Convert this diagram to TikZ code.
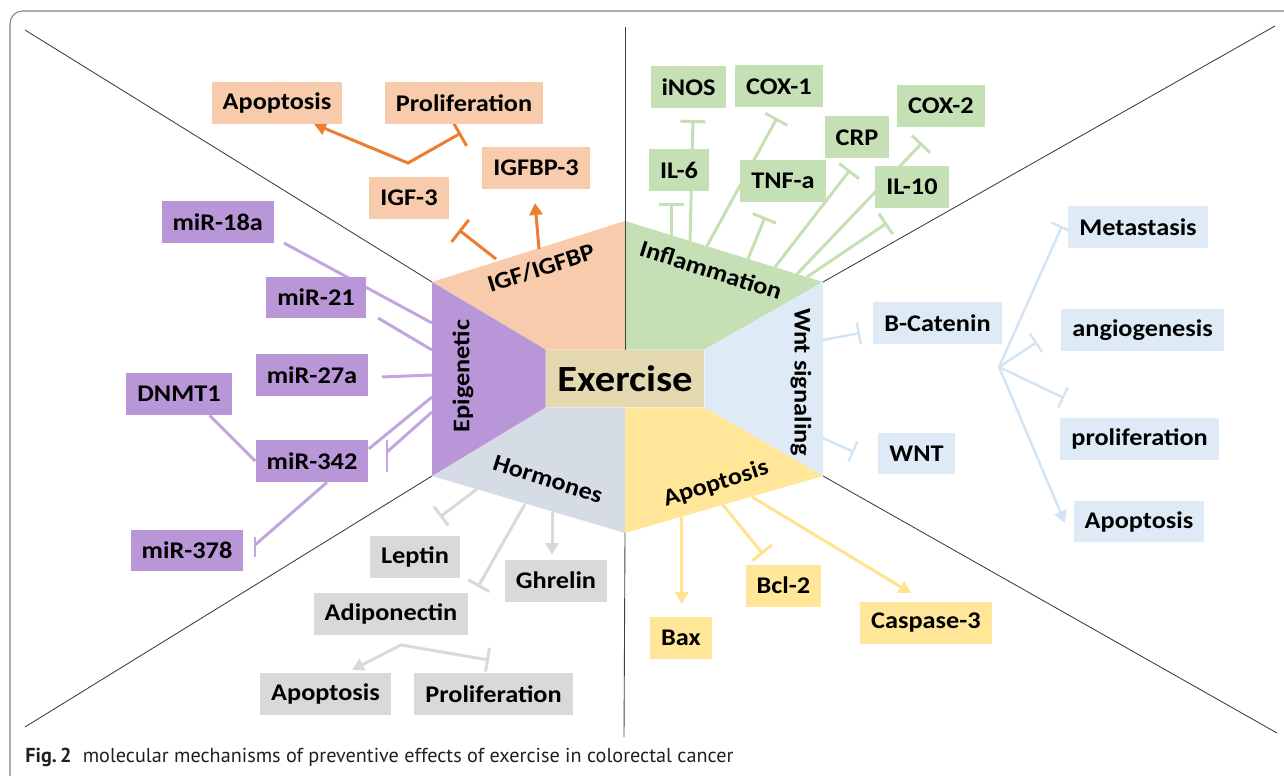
\documentclass[tikz,border=0pt]{standalone}
\usepackage{fontspec}
\usetikzlibrary{arrows.meta}
\newfontfamily\boxfont{Carlito}[FakeStretch=1.1]
\newfontfamily\capfont{PT Sans}

\definecolor{igffill}{HTML}{F8CBAD}
\definecolor{inffill}{HTML}{C5E0B4}
\definecolor{wntfill}{HTML}{DEEBF7}
\definecolor{apofill}{HTML}{FFE699}
\definecolor{horfill}{HTML}{D6DCE5}
\definecolor{epifill}{HTML}{B996D7}
\definecolor{exfill}{HTML}{E4D8B0}
\definecolor{grayfill}{HTML}{D9D9D9}
\definecolor{igfcol}{HTML}{ED7D31}
\definecolor{infcol}{HTML}{C5E0B4}
\definecolor{wntcol}{HTML}{D3E4F4}
\definecolor{apocol}{HTML}{FFE38F}
\definecolor{horcol}{HTML}{D9D9D9}
\definecolor{epicol}{HTML}{C3A5E0}
\definecolor{divcol}{HTML}{404040}
\definecolor{captext}{HTML}{231F20}

\pgfdeclarelayer{bg}
\pgfsetlayers{bg,main}

\tikzset{
  lab/.style={font=\boxfont\bfseries\fontsize{13.6}{15}\selectfont, text=black},
  box/.style={lab, minimum height=0.84cm, inner xsep=0.22cm, inner ysep=0pt},
  igfbox/.style={box, fill=igffill},
  infbox/.style={box, fill=inffill},
  wntbox/.style={box, fill=wntfill},
  apobox/.style={box, fill=apofill},
  horbox/.style={box, fill=grayfill},
  epibox/.style={box, fill=epifill},
  seclab/.style={lab, inner sep=0pt},
  exbox/.style={font=\boxfont\bfseries\fontsize{21}{24}\selectfont, fill=exfill,
    minimum width=3.16cm, minimum height=1.14cm, inner sep=0pt},
  divider/.style={divcol, line width=0.5pt},
  igfline/.style={igfcol, line width=1.7pt},
  infline/.style={infcol, line width=1.7pt},
  wntline/.style={wntcol, line width=1.4pt},
  apoline/.style={apocol, line width=1.7pt},
  horline/.style={horcol, line width=1.7pt},
  epiline/.style={epicol, line width=1.7pt},
  inh/.style={arrows={-Bar[width=#1]}}, inh/.default=0.5cm,
  act/.style={arrows={-Triangle[length=0.24cm,width=0.26cm]}},
  actinh/.style={arrows={Triangle[length=0.24cm,width=0.26cm]-Bar[width=#1]}},
  actinh/.default=0.5cm
}

\begin{document}
\begin{tikzpicture}[x=0.02cm,y=-0.02cm]
\useasboundingbox (0,0) rectangle (1284,776);
\begin{scope}
  \clip (0,0) rectangle (1284,776);
  \draw[gray, line width=0.6pt, rounded corners=0.25cm] (10,11) rectangle (1300,790);
\end{scope}

% centre
\node[exbox] (ex) at (625,378.5) {Exercise};
\coordinate (L1) at (432,282);
\coordinate (T) at (625,221);
\coordinate (R1) at (823,282);
\coordinate (R2) at (823,476);
\coordinate (B) at (625,533);
\coordinate (L2) at (432,476);

\node[seclab, rotate=17.6] (tigf) at (541,268) {IGF/IGFBP};
\node[seclab, rotate=-17.6] (tinf) at (711,270) {Inflammation};
\node[seclab, rotate=-90] (twnt) at (801,382) {Wnt signaling};
\node[seclab, rotate=17.6] (tapo) at (716,484) {Apoptosis};
\node[seclab, rotate=-17.6] (thor) at (548,479) {Hormones};
\node[seclab, rotate=90] (tepi) at (463,376) {Epigenetic};

% IGF
\node[igfbox] (igfapop) at (277,103) {Apoptosis};
\node[igfbox] (igfprol) at (464,103) {Proliferation};
\node[igfbox] (igf3) at (409,198) {IGF-3};
\node[igfbox] (igfbp3) at (536,168) {IGFBP-3};

% inflammation
\node[infbox] (inos) at (688.5,87.5) {iNOS};
\node[infbox] (cox1) at (779,86.5) {COX-1};
\node[infbox] (cox2) at (941,106) {COX-2};
\node[infbox] (crp) at (857,137.5) {CRP};
\node[infbox] (il6) at (679,170.5) {IL-6};
\node[infbox] (tnfa) at (783,181) {TNF-a};
\node[infbox] (il10) at (912,187) {IL-10};

% wnt
\node[wntbox] (metast) at (1138,227) {Metastasis};
\node[wntbox] (bcat) at (937.5,323) {B-Catenin};
\node[wntbox] (angio) at (1142.6,330) {angiogenesis};
\node[wntbox] (wnt) at (916.5,453.5) {WNT};
\node[wntbox] (wprol) at (1139.6,439) {proliferation};
\node[wntbox] (wapop) at (1139,521.5) {Apoptosis};

% apoptosis
\node[apobox] (bax) at (681,637.7) {Bax};
\node[apobox] (bcl2) at (783.5,585.7) {Bcl-2};
\node[apobox] (casp) at (926,623) {Caspase-3};

% hormones
\node[horbox] (leptin) at (415,556.7) {Leptin};
\node[horbox] (ghrelin) at (556,580.7) {Ghrelin};
\node[horbox] (adipo) at (391,614) {Adiponectin};
\node[horbox] (hapop) at (325.5,694) {Apoptosis};
\node[horbox] (hprol) at (493.5,694) {Proliferation};

% epigenetic
\node[epibox] (mir18a) at (217.7,222) {miR-18a};
\node[epibox] (mir21) at (316,297.5) {miR-21};
\node[epibox] (mir27a) at (312,375.3) {miR-27a};
\node[epibox] (dnmt1) at (179,394) {DNMT1};
\node[epibox] (mir342) at (312,461) {miR-342};
\node[epibox] (mir378) at (187,550.5) {miR-378};

\node[anchor=base west, inner sep=0pt, text=captext, font=\capfont\fontsize{11.5}{13}\selectfont]
  (cap) at (25,762) {\textbf{Fig.\,2}\hspace{0.55em}molecular mechanisms of preventive effects of exercise in colorectal cancer};

% free ends
\coordinate (d1) at (25,30);
\coordinate (d2) at (625,27);
\coordinate (d3) at (1275,26);
\coordinate (d4) at (25,727);
\coordinate (d5) at (624,737);
\coordinate (d6) at (1277,733);

\coordinate (o1s) at (496,259); \coordinate (o1e) at (459,230);
\coordinate (o2s) at (539,249); \coordinate (o2e) at (535,203);
\coordinate (ov) at (408,163); \coordinate (o3e) at (314,124); \coordinate (o4e) at (461,133);

\coordinate (g1s) at (671.7,236); \coordinate (g1e) at (671.7,203);
\coordinate (g2s) at (690,241); \coordinate (g2e) at (693,120);
\coordinate (g3s) at (707,246); \coordinate (g3e) at (777,118);
\coordinate (g4s) at (748,259); \coordinate (g4e) at (765,217);
\coordinate (g5s) at (775,267); \coordinate (g5e) at (850,170);
\coordinate (g6s) at (797,274); \coordinate (g6e) at (922,143);
\coordinate (g7s) at (807,277); \coordinate (g7e) at (887,223);

\coordinate (b1s) at (823,340); \coordinate (b1e) at (860,333);
\coordinate (b2s) at (823,438); \coordinate (b2e) at (854,452);
\coordinate (bv) at (999,367);
\coordinate (b3e) at (1062,226); \coordinate (b4e) at (1037,342);
\coordinate (b5e) at (1064,398); \coordinate (b6e) at (1065,523);

\coordinate (y1s) at (681.7,517); \coordinate (y1e) at (681.7,604);
\coordinate (y2s) at (723,505); \coordinate (y2e) at (763,554);
\coordinate (y3s) at (752,497); \coordinate (y3e) at (911,593);

\coordinate (h1s) at (477,489); \coordinate (h1e) at (440,517);
\coordinate (h2s) at (525,504); \coordinate (h2e) at (478,587);
\coordinate (h3s) at (552,512); \coordinate (h3e) at (552,555);
\coordinate (hv) at (401,645); \coordinate (h4e) at (352,670); \coordinate (h5e) at (489,660);

\coordinate (p1s) at (284,243); \coordinate (p1e) at (432,323);
\coordinate (p2s) at (378,318); \coordinate (p2e) at (432,350);
\coordinate (p3s) at (382,377); \coordinate (p3e) at (432,375);
\coordinate (p4s) at (432,397);
\coordinate (p5s) at (432,412); \coordinate (p5e) at (387,452);
\coordinate (p5a) at (387,440); \coordinate (p5b) at (387,472);
\coordinate (p7e) at (255,545);
\coordinate (p7a) at (255,537); \coordinate (p7b) at (255,557);

\begin{pgfonlayer}{bg}
  % sectors
  \fill[igffill] (L1) -- (T) -- (ex.north) -- (ex.north west) -- cycle;
  \fill[inffill] (T) -- (R1) -- (ex.north east) -- (ex.north) -- cycle;
  \fill[wntfill] (R1) -- (R2) -- (ex.south east) -- (ex.north east) -- cycle;
  \fill[apofill] (R2) -- (B) -- (ex.south) -- (ex.south east) -- cycle;
  \fill[horfill] (B) -- (L2) -- (ex.south west) -- (ex.south) -- cycle;
  \fill[epifill] (L2) -- (L1) -- (ex.north west) -- (ex.south west) -- cycle;

  \draw[divider] (d1) -- (L1);
  \draw[divider] (d2) -- (ex.north);
  \draw[divider] (d3) -- (R1);
  \draw[divider] (d4) -- (L2);
  \draw[divider] (B) -- (d5);
  \draw[divider] (d6) -- (R2);

  % IGF
  \draw[igfline, inh=0.56cm] (o1s) -- (o1e);
  \draw[igfline, act] (o2s) -- (o2e);
  \draw[igfline, actinh=0.56cm] (o3e) -- (ov) -- (o4e);

  % inflammation
  \draw[infline, inh] (g1s) -- (g1e);
  \draw[infline, inh] (g2s) -- (g2e);
  \draw[infline, inh] (g3s) -- (g3e);
  \draw[infline, inh] (g4s) -- (g4e);
  \draw[infline, inh] (g5s) -- (g5e);
  \draw[infline, inh] (g6s) -- (g6e);
  \draw[infline, inh] (g7s) -- (g7e);

  % wnt
  \draw[wntline, inh=0.44cm] (b1s) -- (b1e);
  \draw[wntline, inh=0.44cm] (b2s) -- (b2e);
  \draw[wntline, inh=0.44cm, line cap=round] (bv) -- (b3e);
  \draw[wntline, inh=0.44cm, line cap=round] (bv) -- (b4e);
  \draw[wntline, inh=0.44cm, line cap=round] (bv) -- (b5e);
  \draw[wntline, act, line cap=round] (bv) -- (b6e);

  % apoptosis
  \draw[apoline, act] (y1s) -- (y1e);
  \draw[apoline, inh] (y2s) -- (y2e);
  \draw[apoline, act] (y3s) -- (y3e);

  % hormones
  \draw[horline, inh=0.48cm] (h1s) -- (h1e);
  \draw[horline, inh=0.48cm] (h2s) -- (h2e);
  \draw[horline, act] (h3s) -- (h3e);
  \draw[horline, actinh=0.48cm] (h4e) -- (hv) -- (h5e);

  % epigenetic
  \draw[epiline] (p1s) -- (p1e);
  \draw[epiline] (p2s) -- (p2e);
  \draw[epiline] (p3s) -- (p3e);
  \draw[epiline] (p4s) -- (mir342.12);
  \draw[epiline] (p5s) -- (p5e);
  \draw[epiline] (p5a) -- (p5b);
  \draw[epiline] (dnmt1.-35) -- (mir342.west);
  \draw[epiline] (mir342.-55) -- (p7e);
  \draw[epiline] (p7a) -- (p7b);
\end{pgfonlayer}
\end{tikzpicture}
\end{document}
